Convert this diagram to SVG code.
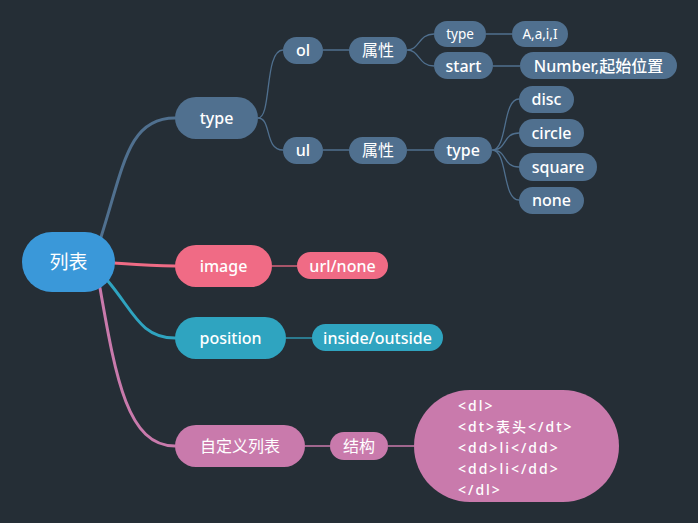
<svg xmlns="http://www.w3.org/2000/svg" width="698" height="523" viewBox="0 0 698 523">
<style>
text{font-family:"Noto Sans","Noto Sans CJK SC",sans-serif;fill:#ffffff;text-anchor:middle;dominant-baseline:central}
.b{fill:#50708f}.p{fill:#f06b85}.t{fill:#2fa4c0}.m{fill:#c97aac}
.lb{stroke:#50708f;fill:none;stroke-width:1.3}
.cl{fill:none;stroke-width:3;stroke-linecap:round}
.f16{font-size:16px;font-weight:500}.f15{font-size:16px;font-weight:500}.f13{font-size:13.5px}
.code{font-size:14px;text-anchor:start;letter-spacing:2px;font-weight:500}
</style>
<rect width="698" height="523" fill="#252e36"/>
<g id="connectors">
<path class="cl" stroke="#50708f" d="M101,237 C124,165 128,118 175,118"/>
<path class="cl" stroke="#f06b85" d="M114,263 C140,265 150,266 175,266"/>
<path class="cl" stroke="#2fa4c0" d="M107,280 C133,310 140,338 175,338"/>
<path class="cl" stroke="#c97aac" d="M100,288 C116,380 128,446 175,446"/>
<path class="lb" d="M258,118 C272,118 264,50 283,50"/>
<path class="lb" d="M258,118 C272,118 264,150 283,150"/>
<path class="lb" d="M323,50 H349 M323,150 H349 M407,150 H434"/>
<path class="lb" d="M407,50 C420,50 418,34 434,34 M407,50 C420,50 418,66 434,66"/>
<path class="lb" d="M486,34 H512 M493,66 H520"/>
<path class="lb" d="M492,150 C508,150 502,99 519,99 M492,150 C508,150 502,133 519,133 M492,150 C508,150 502,167 519,167 M492,150 C508,150 502,200 519,200"/>
<path stroke="#f06b85" stroke-width="1.3" d="M272,266 H297"/>
<path stroke="#2fa4c0" stroke-width="1.3" d="M286,338 H312"/>
<path stroke="#c97aac" stroke-width="1.3" d="M305,446 H330 M388,446 H414"/>
</g>
<g id="root"><rect x="22" y="232" width="93" height="60" rx="30" fill="#3a98d9"/><text x="68.5" y="262" style="font-size:19px">列表</text></g>
<g id="type"><rect class="b" x="175" y="97" width="83" height="42" rx="21"/><text class="f16" x="216.5" y="118">type</text></g>
<g id="image"><rect class="p" x="175" y="245" width="97" height="42" rx="21"/><text class="f16" x="223.5" y="266">image</text></g>
<g id="position"><rect class="t" x="175" y="317" width="111" height="42" rx="21"/><text class="f16" x="230.5" y="338">position</text></g>
<g id="custom"><rect class="m" x="175" y="425" width="130" height="42" rx="21"/><text class="f16" x="240" y="446" style="font-weight:400">自定义列表</text></g>
<g id="ol"><rect class="b" x="283" y="37" width="40" height="27" rx="13.5"/><text class="f15" x="303" y="50">ol</text></g>
<g id="ul"><rect class="b" x="283" y="137" width="40" height="27" rx="13.5"/><text class="f15" x="303" y="150">ul</text></g>
<g id="attr1"><rect class="b" x="349" y="37" width="58" height="27" rx="13.5"/><text class="f15" x="378" y="50" style="font-weight:400">属性</text></g>
<g id="attr2"><rect class="b" x="349" y="137" width="58" height="27" rx="13.5"/><text class="f15" x="378" y="150" style="font-weight:400">属性</text></g>
<g id="type-ol"><rect class="b" x="434" y="21" width="52" height="26" rx="13"/><text class="f13" x="460" y="34">type</text></g>
<g id="aai"><rect class="b" x="512" y="21" width="56" height="26" rx="13"/><text class="f13" x="540" y="34">A,a,i,I</text></g>
<g id="start"><rect class="b" x="434" y="52" width="59" height="27" rx="13.5"/><text class="f15" x="463.5" y="66">start</text></g>
<g id="number"><rect class="b" x="520" y="52" width="157" height="27" rx="13.5"/><text class="f15" x="598.5" y="66">Number,起始位置</text></g>
<g id="type-ul"><rect class="b" x="434" y="137" width="58" height="27" rx="13.5"/><text class="f15" x="463" y="150">type</text></g>
<g id="disc"><rect class="b" x="519" y="86" width="55" height="27" rx="13.5"/><text class="f15" x="546.5" y="99">disc</text></g>
<g id="circle"><rect class="b" x="519" y="119" width="65" height="28" rx="14"/><text class="f15" x="551.5" y="133">circle</text></g>
<g id="square"><rect class="b" x="519" y="153" width="78" height="28" rx="14"/><text class="f15" x="558" y="167">square</text></g>
<g id="none"><rect class="b" x="519" y="187" width="65" height="27" rx="13.5"/><text class="f15" x="551.5" y="200">none</text></g>
<g id="urlnone"><rect class="p" x="297" y="252" width="91" height="27" rx="13.5"/><text class="f15" x="342.5" y="266">url/none</text></g>
<g id="inout"><rect class="t" x="312" y="324" width="131" height="27" rx="13.5"/><text class="f15" x="377.5" y="338">inside/outside</text></g>
<g id="struct"><rect class="m" x="330" y="432" width="58" height="28" rx="14"/><text class="f15" x="359" y="446" style="font-weight:400">结构</text></g>
<g id="dl"><rect class="m" x="414" y="390" width="205" height="112" rx="56"/>
<text class="code" x="458" y="405">&lt;dl&gt;</text>
<text class="code" x="458" y="426">&lt;dt&gt;表头&lt;/dt&gt;</text>
<text class="code" x="458" y="447">&lt;dd&gt;li&lt;/dd&gt;</text>
<text class="code" x="458" y="468">&lt;dd&gt;li&lt;/dd&gt;</text>
<text class="code" x="458" y="489">&lt;/dl&gt;</text>
</g>
</svg>
